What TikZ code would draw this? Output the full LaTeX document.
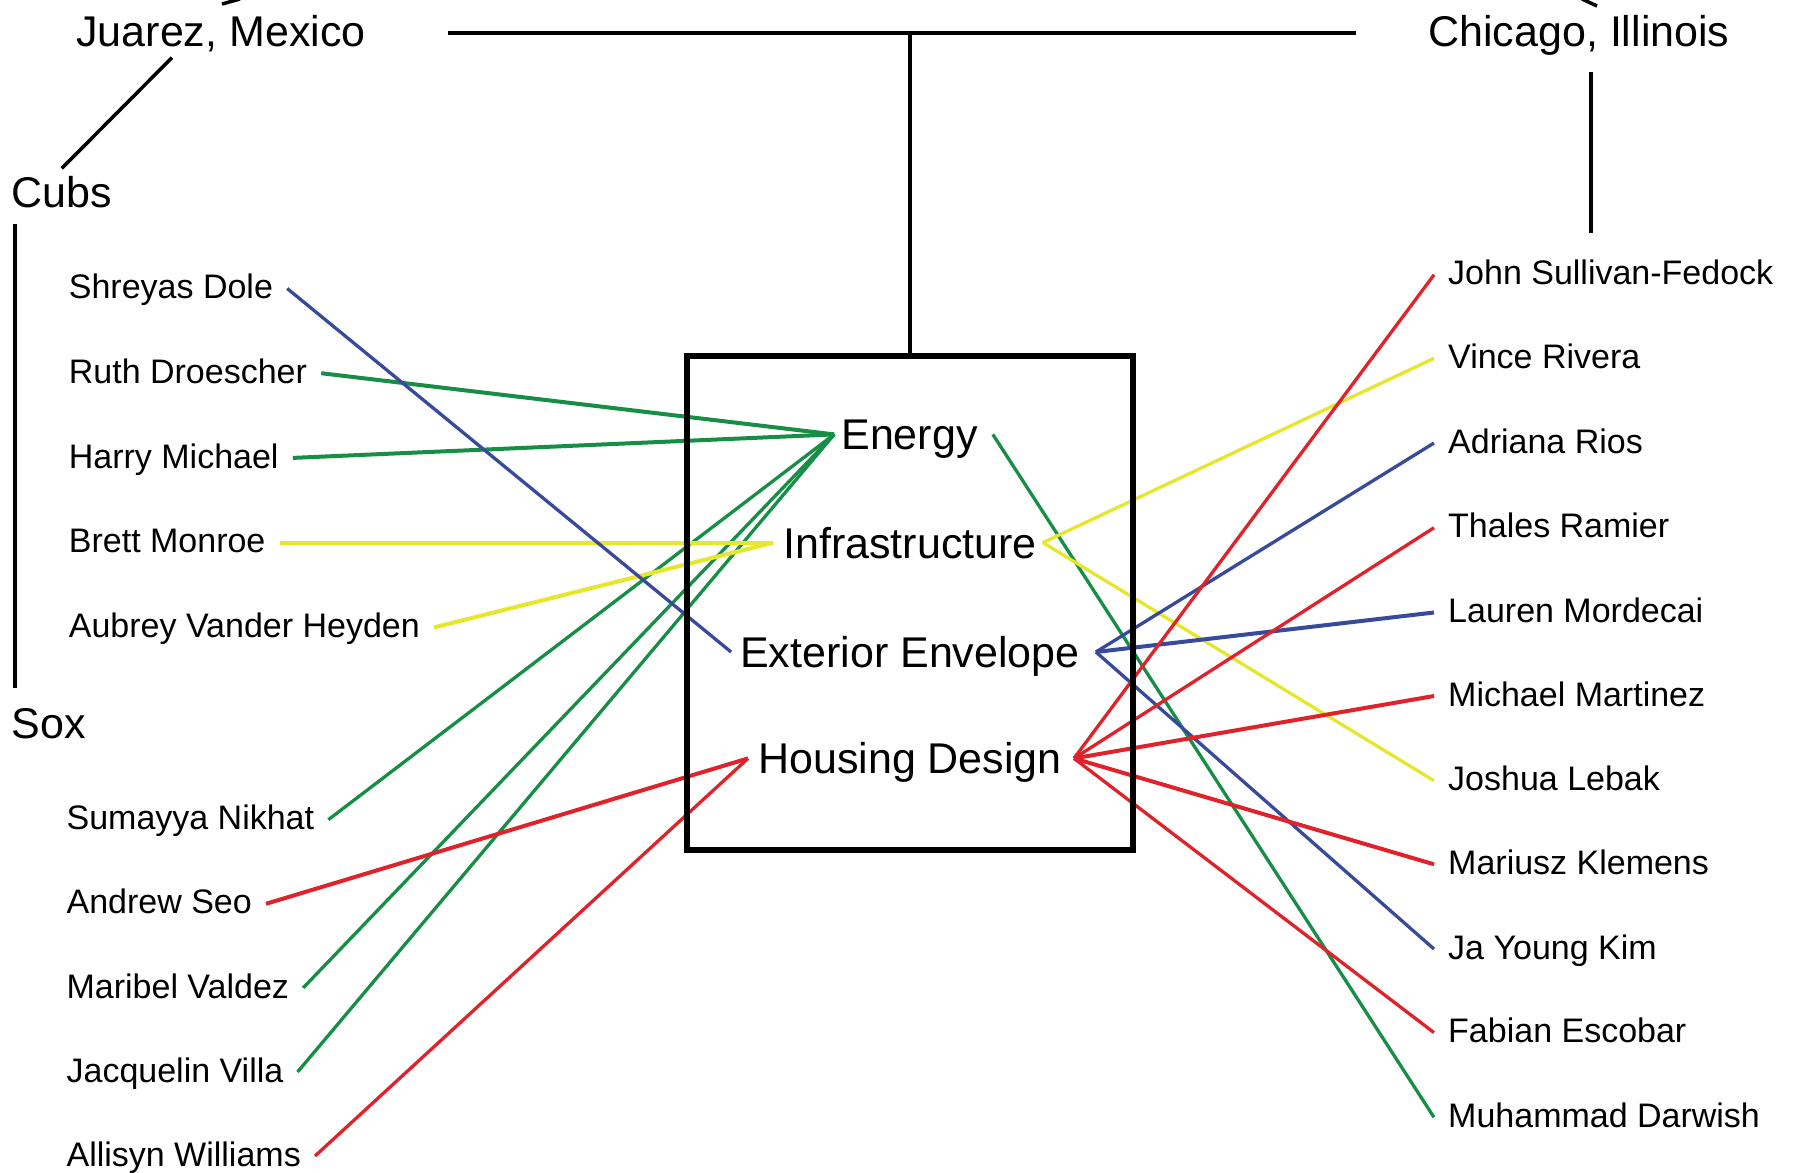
\documentclass[tikz,border=0pt]{standalone}
\usepackage{fontspec}
\setmainfont{Liberation Sans}
\definecolor{lgreen}{RGB}{22,142,70}
\definecolor{lblue}{RGB}{56,74,154}
\definecolor{lyellow}{RGB}{230,230,44}
\definecolor{lred}{RGB}{224,34,42}

\begin{document}
\begin{tikzpicture}[x=1pt,y=-1pt,
  place/.style={inner sep=0pt, text height=30.8pt, text depth=0pt,
    font=\fontsize{43}{50}\selectfont},
  topic/.style={place},
  person/.style={inner xsep=14pt, inner ysep=0pt, text height=24.3pt,
    text depth=4pt, font=\fontsize{34}{40}\selectfont, anchor=west},
  link/.style={line width=3.3pt},
  heavy/.style={line width=4pt},
  tree/.style={line width=3.5pt, black},
]
\useasboundingbox (0,0) rectangle (1795,1172);

% cities and teams
\node[place] (juarez) at (221,31) {Juarez, Mexico};
\node[place] (chicago) at (1579,31) {Chicago, Illinois};
\node[place, anchor=west] (cubs) at (11.4,192) {Cubs};
\node[place, anchor=west] (sox) at (11.4,723) {Sox};

% topics
\node[topic] (energy)   at (909.5,434.4) {Energy};
\node[topic] (infra)    at (910,542.6)   {Infrastructure};
\node[topic] (exterior) at (910,652)     {Exterior Envelope};
\node[topic] (housing)  at (910,758.4)   {Housing Design};

% left column
\node[person] (shreyas)   at (54.7,288.5) {Shreyas Dole};
\node[person] (ruth)      at (54.7,373.2) {Ruth Droescher};
\node[person] (harry)     at (54.7,457.9) {Harry Michael};
\node[person] (brett)     at (54.7,542.6) {Brett Monroe};
\node[person] (aubrey)    at (54.7,627.4) {Aubrey Vander Heyden};
\node[person] (sumayya)   at (52.4,819.7) {Sumayya Nikhat};
\node[person] (andrew)    at (52.4,903.8) {Andrew Seo};
\node[person] (maribel)   at (52.4,987.9) {Maribel Valdez};
\node[person] (jacquelin) at (52.4,1072)  {Jacquelin Villa};
\node[person] (allisyn)   at (52.4,1156)  {Allisyn Williams};

% right column
\node[person] (john)     at (1434,274.8)  {John Sullivan-Fedock};
\node[person] (vince)    at (1434,358.3)  {Vince Rivera};
\node[person] (adriana)  at (1434,443)    {Adriana Rios};
\node[person] (thales)   at (1434,527.7)  {Thales Ramier};
\node[person] (lauren)   at (1434,612.5)  {Lauren Mordecai};
\node[person] (michael)  at (1434,696)    {Michael Martinez};
\node[person] (joshua)   at (1434,780.7)  {Joshua Lebak};
\node[person] (mariusz)  at (1434,864.3)  {Mariusz Klemens};
\node[person] (jayoung)  at (1434,949)    {Ja Young Kim};
\node[person] (fabian)   at (1434,1032.6) {Fabian Escobar};
\node[person] (muhammad) at (1434,1117.3) {Muhammad Darwish};

% topic anchor points
\coordinate (eL) at ([xshift=-7pt]energy.west);
\coordinate (eR) at ([xshift=15pt]energy.east);
\coordinate (iL) at ([xshift=-10pt]infra.west);
\coordinate (iR) at ([xshift=6pt]infra.east);
\coordinate (xL) at ([xshift=-9pt]exterior.west);
\coordinate (xR) at ([xshift=16pt]exterior.east);
\coordinate (hL) at ([xshift=-10pt]housing.west);
\coordinate (hR) at ([xshift=12pt]housing.east);

% energy
\draw[heavy, lgreen] (ruth.east) -- (eL);
\draw[heavy, lgreen] (harry.east) -- (eL);
\draw[link, lgreen] (sumayya.east) -- (eL);
\draw[link, lgreen] (maribel.east) -- (eL);
\draw[link, lgreen] (jacquelin.east) -- (eL);
\draw[link, lgreen] (eR) -- (muhammad.west);

% infrastructure
\draw[heavy, lyellow] (brett.east) -- (iL);
\draw[heavy, lyellow] (aubrey.east) -- (iL);
\draw[link, lyellow] (iR) -- (vince.west);
\draw[link, lyellow] (iR) -- (joshua.west);

% exterior envelope
\draw[link, lblue] (shreyas.east) -- (xL);
\draw[link, lblue] (xR) -- (adriana.west);
\draw[heavy, lblue] (xR) -- (lauren.west);
\draw[link, lblue] (xR) -- (jayoung.west);

% housing design
\draw[heavy, lred] (andrew.east) -- (hL);
\draw[link, lred] (allisyn.east) -- (hL);
\draw[link, lred] (hR) -- (john.west);
\draw[link, lred] (hR) -- (thales.west);
\draw[heavy, lred] (hR) -- (michael.west);
\draw[heavy, lred] (hR) -- (mariusz.west);
\draw[link, lred] (hR) -- (fabian.west);

% frame round the topics
\node[draw, line width=6pt, minimum width=446pt, minimum height=494pt,
      inner sep=0pt] (box) at (910,602.5) {};

% tree of places
\coordinate (hubL) at ([xshift=82pt,yshift=-2pt]juarez.east);
\coordinate (hubR) at ([xshift=-72pt,yshift=-2pt]chicago.west);
\draw[tree] (hubL) -- (hubR);
\draw[tree] (box.north) -- (box.north |- hubL);
\draw[tree] ([xshift=-49pt,yshift=-11pt]juarez.south) -- ([yshift=8pt]cubs.north);
\draw[tree] ([xshift=3.6pt,yshift=-16pt]cubs.south west) -- ([xshift=3.6pt,yshift=19pt]sox.north west);
\draw[tree] ([xshift=12pt,yshift=-25pt]chicago.south) -- ++(0,161);

% strokes running off the top edge
\draw[tree] (222,4) -- (240,-1);
\draw[tree] (1582,-1) -- (1597,6);
\end{tikzpicture}
\end{document}
